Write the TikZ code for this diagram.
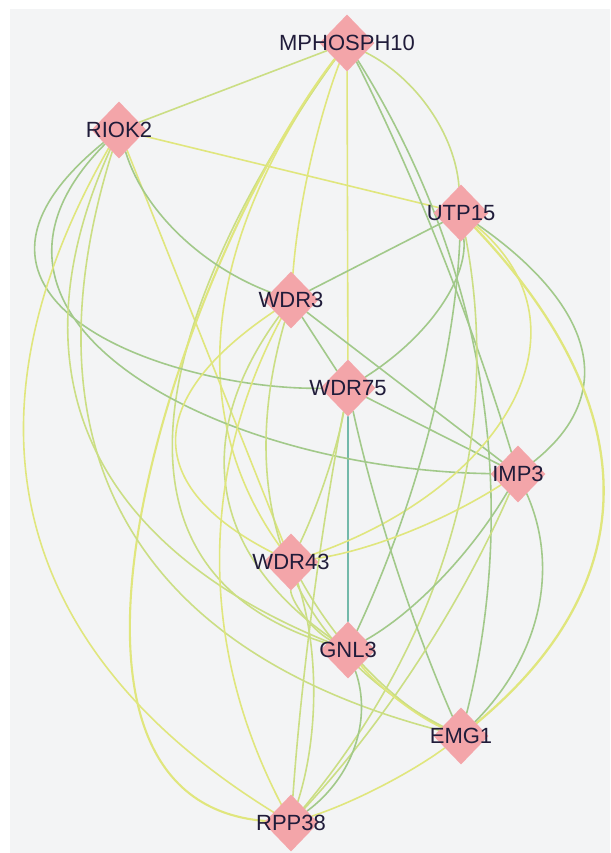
\documentclass[tikz,border=0pt]{standalone}
\usepackage{fontspec}
\setmainfont{Liberation Sans}
\usetikzlibrary{shapes.geometric,calc}
\pgfdeclarelayer{bg}
\pgfsetlayers{bg,main}
\definecolor{bgc}{RGB}{243,244,245}
\definecolor{nodepink}{RGB}{243,165,169}
\definecolor{labelc}{RGB}{32,28,58}
\definecolor{ey}{RGB}{224,230,125}
\definecolor{eyg}{RGB}{203,222,132}
\definecolor{eg}{RGB}{162,201,138}
\definecolor{et}{RGB}{115,185,170}
\newcommand\qedge[4]{\draw[#1] (#2) .. controls ($1.3333*#4-0.3333*(#3)$) and ($1.3333*#4-0.3333*(#2)$) .. (#3);}
\tikzset{
  gene/.style={diamond, shape aspect=0.95, fill=nodepink, draw=none, minimum width=55pt, minimum height=57pt, inner sep=0pt,
    label={[text=labelc, font=\fontsize{22pt}{26pt}\selectfont, inner sep=0pt]center:#1}},
  edge/.style={line width=1.6pt, line cap=round},
  Y/.style={edge, draw=ey},
  YG/.style={edge, draw=eyg},
  G/.style={edge, draw=eg},
  T/.style={edge, draw=et},
}
\begin{document}
\begin{tikzpicture}[x=1pt,y=-1pt]
\useasboundingbox (0,0) rectangle (610,853);
% nodes
\node[gene=MPHOSPH10] (M) at (347,43) {};
\node[gene=RIOK2] (R) at (119,130) {};
\node[gene=UTP15] (U) at (461,213) {};
\node[gene=WDR3] (W3) at (291,300) {};
\node[gene=WDR75] (W75) at (348,388) {};
\node[gene=IMP3] (I) at (518,474) {};
\node[gene=WDR43] (W43) at (291,562) {};
\node[gene=GNL3] (GN) at (348,650) {};
\node[gene=EMG1] (E) at (461,736) {};
\node[gene=RPP38] (P) at (291,823) {};
\begin{pgfonlayer}{bg}
\fill[white] (0,0) rectangle (610,853);
\fill[bgc] (10,9) rectangle (610,853);
% straight edges
\draw[YG] (M) -- (R);
\draw[Y] (M) -- (W75);
\draw[Y] (R) -- (U);
\draw[G] (U) -- (W3);
\draw[G] (W3) -- (W75);
\draw[G] (W3) -- (I);
\draw[G] (W75) -- (I);
\draw[T] (W75) -- (GN);
\draw[Y] (R) -- (W43);
% MPHOSPH10
\qedge{YG}{M}{U}{(428,112)}
\qedge{Y}{M}{W3}{(310,168)}
\qedge{G}{M}{I}{(440,250)}
\qedge{G}{M}{E}{(478,380)}
\qedge{Y}{M}{W43}{(225,320)}
\draw[YG] (M) .. controls (190,260) and (60,560) .. (GN);
\draw[Y, line width=2.1pt] (M) .. controls (180,260) and (0,800) .. (P);
% RIOK2
\qedge{G}{R}{W3}{(180,232)}
\draw[G] (R) .. controls (-90,300) and (170,390) .. (W75);
\draw[G] (R) .. controls (-70,320) and (220,470) .. (I);
\qedge{YG}{R}{GN}{(95,440)}
\qedge{YG}{R}{E}{(130,520)}
\qedge{Y}{R}{P}{(38,520)}
% UTP15
\qedge{G}{U}{W75}{(438,305)}
\qedge{G}{U}{I}{(578,350)}
\draw[Y] (U) .. controls (600,330) and (500,490) .. (W43);
\qedge{G}{U}{GN}{(428,430)}
\qedge{Y, line width=2.3pt}{U}{E}{(600,490)}
\qedge{YG}{U}{P}{(450,530)}
% WDR3
\qedge{Y}{W3}{W43}{(180,440)}
\qedge{YG}{W3}{GN}{(230,490)}
\qedge{YG}{W3}{E}{(290,560)}
\qedge{Y}{W3}{P}{(222,560)}
% WDR75
\qedge{YG}{W75}{W43}{(326,475)}
\qedge{G}{W75}{E}{(396,565)}
\qedge{YG}{W75}{P}{(313,605)}
% IMP3
\qedge{Y}{I}{W43}{(405,532)}
\qedge{G}{I}{GN}{(440,578)}
\qedge{G}{I}{E}{(535,610)}
\qedge{YG}{I}{P}{(418,660)}
% WDR43
\qedge{YG}{W43}{GN}{(305,612)}
\qedge{YG}{W43}{E}{(368,668)}
\qedge{YG}{W43}{P}{(312,692)}
% GNL3, EMG1
\qedge{Y}{GN}{E}{(400,700)}
\qedge{G}{GN}{P}{(352,745)}
\qedge{Y}{E}{P}{(380,786)}
\end{pgfonlayer}
\end{tikzpicture}
\end{document}
